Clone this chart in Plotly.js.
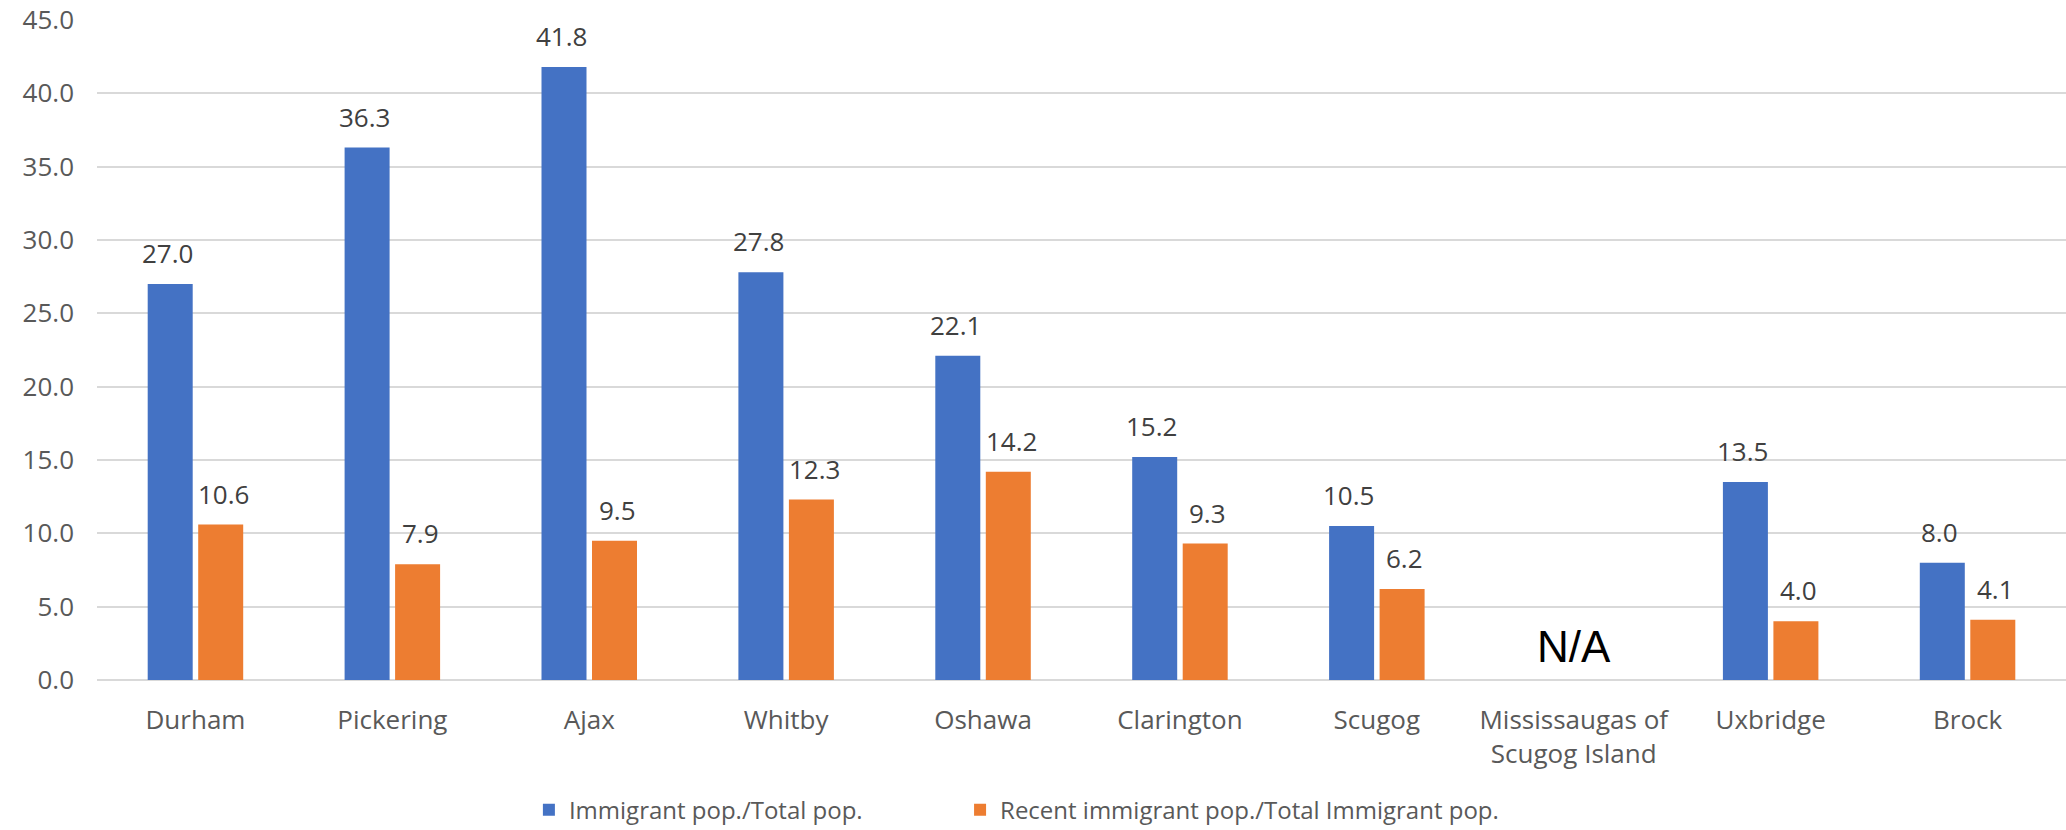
<!DOCTYPE html>
<html>
<head>
<meta charset="utf-8">
<script src="https://cdn.plot.ly/plotly-3.0.1.min.js"></script>
<style>html,body{margin:0;padding:0;background:#fff;}#chart{width:2066px;height:830px;}</style>
</head>
<body>
<div id="chart"></div>
<script>
const categories = ["Durham", "Pickering", "Ajax", "Whitby", "Oshawa", "Clarington", "Scugog", "Mississaugas of<br>Scugog Island", "Uxbridge", "Brock"];
const immigrantShare = [27.0, 36.3, 41.8, 27.8, 22.1, 15.2, 10.5, null, 13.5, 8.0];
const recentShare = [10.6, 7.9, 9.5, 12.3, 14.2, 9.3, 6.2, null, 4.0, 4.1];
const seriesNames = ["Immigrant pop./Total pop.", "Recent immigrant pop./Total Immigrant pop."];
const naCategory = "Mississaugas of<br>Scugog Island";
const naText = "N/A";
const naY = 2.3;

const blue = "#4472C4", orange = "#ED7D31";
const labelFont = {family: "Open Sans", size: 26, color: "#404040"};

const traces = [
  {type: "bar", name: seriesNames[0], x: categories, y: immigrantShare, marker: {color: blue}, hoverinfo: "skip", legend: "legend"},
  {type: "bar", name: seriesNames[1], x: categories, y: recentShare, marker: {color: orange}, hoverinfo: "skip", legend: "legend2"}
];

const annotations = [];
function addLabels(vals, shift) {
  vals.forEach((v, i) => {
    if (v === null) return;
    annotations.push({
      x: categories[i], y: v, xref: "x", yref: "y",
      text: v.toFixed(1), showarrow: false,
      xanchor: "center", yanchor: "bottom",
      xshift: shift, yshift: 11, font: labelFont
    });
  });
}
addLabels(immigrantShare, -28);
addLabels(recentShare, 28);
annotations.push({
  x: naCategory, y: naY, xref: "x", yref: "y", text: naText, showarrow: false,
  xanchor: "center", yanchor: "middle",
  font: {family: "Liberation Sans", size: 44, color: "#000000"}
});

const legendBase = {
  orientation: "h", xref: "container", yref: "container",
  xanchor: "left", y: 0.024, yanchor: "middle",
  font: {family: "Open Sans", size: 24, color: "#595959"},
  bgcolor: "rgba(0,0,0,0)", borderwidth: 0
};

const layout = {
  width: 2066, height: 830,
  margin: {l: 97, r: 0, t: 20, b: 150, autoexpand: false},
  paper_bgcolor: "#ffffff", plot_bgcolor: "#ffffff",
  barmode: "group", bargap: 0.487, bargroupgap: 0.109,
  font: {family: "Open Sans", size: 26, color: "#595959"},
  xaxis: {
    type: "category", showgrid: false, zeroline: false, showline: false,
    ticks: "", ticklabelstandoff: 22, automargin: false,
    tickfont: {family: "Open Sans", size: 26, color: "#595959"}
  },
  yaxis: {
    range: [0, 45], dtick: 5, tick0: 0, tickformat: ".1f",
    showgrid: true, gridcolor: "#d9d9d9", gridwidth: 2,
    zeroline: true, zerolinecolor: "#d9d9d9", zerolinewidth: 2,
    showline: false, ticks: "", ticklabelstandoff: 22, automargin: false,
    tickfont: {family: "Open Sans", size: 26, color: "#595959"}
  },
  showlegend: true,
  legend: Object.assign({}, legendBase, {x: 0.2560}),
  legend2: Object.assign({}, legendBase, {x: 0.4647}),
  annotations: annotations
};

Plotly.newPlot("chart", traces, layout, {staticPlot: true, displayModeBar: false});
</script>
</body>
</html>
